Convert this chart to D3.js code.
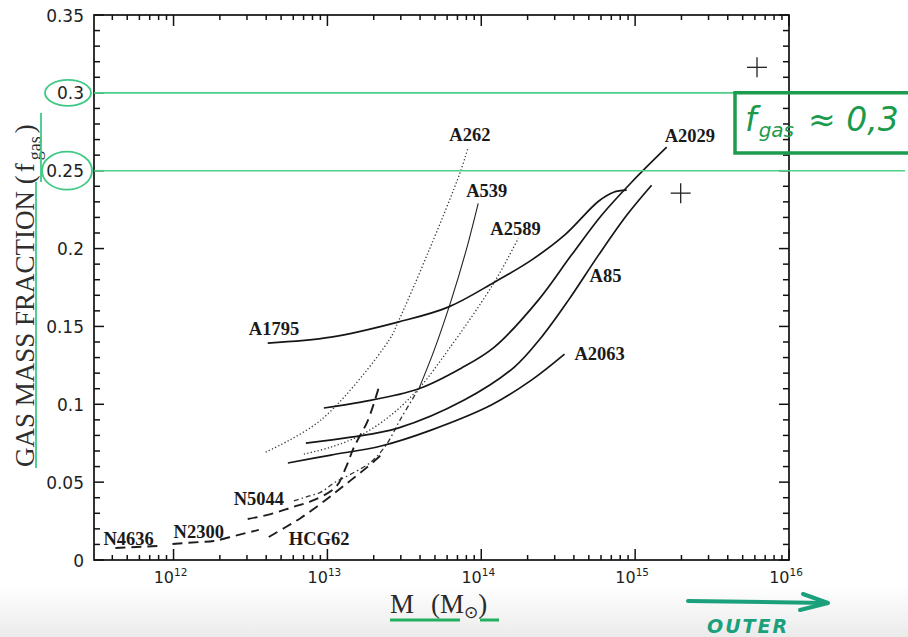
<!DOCTYPE html>
<html>
<head>
<meta charset="utf-8">
<script src="https://cdn.jsdelivr.net/npm/d3@7"></script>
<style>
  html, body { margin: 0; padding: 0; background: #fff; }
  svg { display: block; }
</style>
</head>
<body>
<svg id="chart" width="908" height="637"></svg>
<script>
// Gas mass fraction profiles, points are [log10 M (Msun), f_gas]
const n4636 = [[11.622, 0.0077], [11.896, 0.0090]];
const n2300 = [[11.993, 0.0103], [12.176, 0.0116], [12.261, 0.0122], [12.417, 0.0160], [12.554, 0.0193]];
const n5044 = [[12.482, 0.0263], [12.632, 0.0295], [12.775, 0.0340], [12.899, 0.0379], [13.055, 0.0469],
               [13.121, 0.0597], [13.173, 0.0725], [13.264, 0.0899], [13.342, 0.1136]];
const hcg62 = [[12.619, 0.0148], [12.730, 0.0212], [12.827, 0.0270], [12.945, 0.0353], [13.055, 0.0436],
               [13.153, 0.0513], [13.251, 0.0590], [13.349, 0.0674]];
const a262 = [[12.599, 0.0693], [12.958, 0.0899], [13.401, 0.1412], [13.459, 0.1528], [13.661, 0.1990],
              [13.863, 0.2490], [13.915, 0.2651]];
const a539 = [[13.596, 0.1104], [13.694, 0.1348], [13.805, 0.1669], [13.902, 0.1990], [13.980, 0.2291]];
const a539Inner = [[12.782, 0.0379], [12.860, 0.0404], [12.958, 0.0436], [13.042, 0.0494], [13.153, 0.0552],
                   [13.283, 0.0629], [13.381, 0.0738], [13.479, 0.0911], [13.596, 0.1104]];
const a2589 = [[12.847, 0.0680], [13.023, 0.0725], [13.218, 0.0802], [13.414, 0.0931], [13.596, 0.1104],
               [13.785, 0.1348], [14.085, 0.1784], [14.241, 0.2067]];
const a1795 = [[12.612, 0.1393], [13.023, 0.1431], [13.459, 0.1528], [13.785, 0.1624], [14.085, 0.1784],
               [14.326, 0.1926], [14.541, 0.2086], [14.762, 0.2304], [14.860, 0.2362], [14.945, 0.2375]];
const a2029 = [[12.977, 0.0976], [13.218, 0.1014], [13.590, 0.1098], [13.870, 0.1232], [14.085, 0.1367],
               [14.371, 0.1669], [14.586, 0.1958], [14.782, 0.2214], [14.977, 0.2426], [15.205, 0.2651]];
const a85 = [[12.860, 0.0751], [13.153, 0.0789], [13.459, 0.0847], [13.889, 0.1027], [14.215, 0.1239],
             [14.391, 0.1431], [14.567, 0.1669], [14.762, 0.1958], [14.945, 0.2214], [15.107, 0.2407]];
const a2063 = [[12.743, 0.0623], [13.023, 0.0674], [13.349, 0.0732], [13.674, 0.0834], [14.065, 0.0995],
               [14.326, 0.1155], [14.541, 0.1322]];

// Single reference points marked with crosses
const crossPoints = [[15.792, 0.3164], [15.296, 0.2356]];

// Object names with the [log10 M, f_gas] where each name starts
const objectLabels = [
  { name: "A262",  at: [13.792, 0.2689] },
  { name: "A539",  at: [13.902, 0.2330] },
  { name: "A2589", at: [14.059, 0.2086] },
  { name: "A2029", at: [15.192, 0.2683] },
  { name: "A85",   at: [14.704, 0.1784] },
  { name: "A1795", at: [12.489, 0.1444] },
  { name: "A2063", at: [14.606, 0.1284] },
  { name: "N5044", at: [12.391, 0.0353] },
  { name: "HCG62", at: [12.749, 0.0096] },
  { name: "N2300", at: [12.000, 0.0141] },
  { name: "N4636", at: [11.544, 0.0096] }
];

// Axis ticks
const xMajor = [1e12, 1e13, 1e14, 1e15, 1e16];
const xMajorExp = ["12", "13", "14", "15", "16"];
const yMajor = [0, 0.05, 0.1, 0.15, 0.2, 0.25, 0.3, 0.35];
const yMajorLabels = ["0", "0.05", "0.1", "0.15", "0.2", "0.25", "0.3", "0.35"];
const highlightF = [0.3, 0.25];

const series = [
  { name: "N4636", kind: "dashed", pts: n4636 },
  { name: "N2300", kind: "dashed", pts: n2300 },
  { name: "N5044", kind: "dashed", pts: n5044 },
  { name: "HCG62", kind: "dashed", pts: hcg62 },
  { name: "A262",  kind: "dotted", pts: a262 },
  { name: "A539",  kind: "thin",   pts: a539 },
  { name: "A539i", kind: "dashdot", pts: a539Inner },
  { name: "A2589", kind: "dotted", pts: a2589 },
  { name: "A1795", kind: "solid",  pts: a1795 },
  { name: "A2029", kind: "solid",  pts: a2029 },
  { name: "A85",   kind: "solid",  pts: a85 },
  { name: "A2063", kind: "solid",  pts: a2063 }
];

const lineStyles = {
  solid:   { stroke: "#161616", width: 1.7, dash: null },
  thin:    { stroke: "#222",    width: 1.1, dash: null },
  dotted:  { stroke: "#3a3a3a", width: 1.3, dash: "1.3 2.2" },
  dashed:  { stroke: "#1c1c1c", width: 1.9, dash: "10 6" },
  dashdot: { stroke: "#333",    width: 1.3, dash: "5 3 1.5 3" }
};

const svg = d3.select("#chart");
const W = 908, H = 637;
const plotL = 94, plotR = 789, plotT = 15, plotB = 560;

const x = d3.scaleLog().domain([10 ** 11.483, 1e16]).range([plotL, plotR]);
const y = d3.scaleLinear().domain([0, 0.35]).range([plotB, plotT]);

// faint scanner shading along the lower edge
const defs = svg.append("defs");
const grad = defs.append("linearGradient").attr("id", "lowShade").attr("x1", 0).attr("y1", 0).attr("x2", 0).attr("y2", 1);
grad.append("stop").attr("offset", "0%").attr("stop-color", "#ffffff");
grad.append("stop").attr("offset", "100%").attr("stop-color", "#ebebeb");
svg.append("rect").attr("x", 0).attr("y", 585).attr("width", W).attr("height", H - 585).attr("fill", "url(#lowShade)");

// minor x ticks: 2..9 of every decade inside the range
const xMinor = [];
for (let e = 11; e < 16; e++) {
  for (let m = 2; m <= 9; m++) {
    const v = m * 10 ** e;
    if (v > x.domain()[0] && v < 1e16) xMinor.push(v);
  }
}
const yMinor = d3.range(0, 36).map(i => i / 100).filter(v => Math.round(v * 100) % 5 !== 0);

// inward tick marks on all four sides
const tickG = svg.append("g").attr("stroke", "#111").attr("stroke-width", 1.5);
function xTicks(vals, len) {
  tickG.append("g").selectAll("line").data(vals).join("line")
    .attr("x1", d => x(d)).attr("x2", d => x(d)).attr("y1", plotB).attr("y2", plotB - len);
  tickG.append("g").selectAll("line").data(vals).join("line")
    .attr("x1", d => x(d)).attr("x2", d => x(d)).attr("y1", plotT).attr("y2", plotT + len);
}
function yTicks(vals, len) {
  tickG.append("g").selectAll("line").data(vals).join("line")
    .attr("y1", d => y(d)).attr("y2", d => y(d)).attr("x1", plotL).attr("x2", plotL + len);
  tickG.append("g").selectAll("line").data(vals).join("line")
    .attr("y1", d => y(d)).attr("y2", d => y(d)).attr("x1", plotR).attr("x2", plotR - len);
}
xTicks(xMajor, 11);
xTicks(xMinor, 5);
yTicks(yMajor, 10);
yTicks(yMinor, 6);

// y tick labels through the axis generator (its own tick lines hidden)
const yAxisLeft = svg.append("g").attr("transform", `translate(${plotL},0)`)
  .call(d3.axisLeft(y).tickValues(yMajor).tickSize(0).tickPadding(10)
    .tickFormat((d, i) => yMajorLabels[i]));
yAxisLeft.select(".domain").remove();
yAxisLeft.selectAll(".tick line").remove();
yAxisLeft.selectAll(".tick text")
  .attr("font-family", "DejaVu Sans, sans-serif").attr("font-size", 17).attr("fill", "#1e1e1e")
  .attr("dy", "0.36em");

// x tick labels as powers of ten
const xl = svg.append("g").selectAll("text").data(xMajor).join("text")
  .attr("x", d => x(d) - 3).attr("y", 583)
  .attr("text-anchor", "middle")
  .attr("font-family", "DejaVu Sans, sans-serif").attr("font-size", 16).attr("fill", "#1e1e1e");
xl.append("tspan").text("10");
xl.append("tspan").attr("font-size", 10.5).attr("dy", -7).text((d, i) => xMajorExp[i]);

// frame
svg.append("rect").attr("x", plotL).attr("y", plotT).attr("width", plotR - plotL).attr("height", plotB - plotT)
  .attr("fill", "none").attr("stroke", "#111").attr("stroke-width", 1.7);

// profiles
const line = d3.line()
  .x(d => x(10 ** d[0]))
  .y(d => y(d[1]))
  .curve(d3.curveCatmullRom.alpha(0.5));

svg.append("g").selectAll("path").data(series).join("path")
  .attr("d", s => line(s.pts))
  .attr("fill", "none")
  .attr("stroke", s => lineStyles[s.kind].stroke)
  .attr("stroke-width", s => lineStyles[s.kind].width)
  .attr("stroke-dasharray", s => lineStyles[s.kind].dash)
  .attr("stroke-linecap", "butt");

// crosses
const cr = svg.append("g").attr("stroke", "#222").attr("stroke-width", 1.3);
crossPoints.forEach(p => {
  const cx = x(10 ** p[0]), cy = y(p[1]);
  cr.append("line").attr("x1", cx - 10).attr("x2", cx + 10).attr("y1", cy).attr("y2", cy);
  cr.append("line").attr("x1", cx).attr("x2", cx).attr("y1", cy - 10).attr("y2", cy + 10);
});

// object names
svg.append("g").selectAll("text").data(objectLabels).join("text")
  .attr("x", d => x(10 ** d.at[0])).attr("y", d => y(d.at[1]))
  .attr("font-family", "Liberation Serif, Times New Roman, serif")
  .attr("font-weight", "bold").attr("font-size", 18.5).attr("fill", "#1a1a1a")
  .text(d => d.name);

// axis titles
const yTitle = svg.append("text")
  .attr("transform", `translate(34,467) rotate(-90)`)
  .attr("font-family", "Liberation Serif, Times New Roman, serif")
  .attr("font-size", 27).attr("fill", "#2e2e2e");
yTitle.append("tspan").text("GAS MASS FRACTION (");
yTitle.append("tspan").attr("dx", 3).text("f");
yTitle.append("tspan").attr("font-size", 18).attr("dy", 7).attr("dx", 3).text("gas");
yTitle.append("tspan").attr("dy", -7).attr("dx", 3).text(")");

const xTitle = svg.append("text").attr("y", 613)
  .attr("font-family", "Liberation Serif, Times New Roman, serif")
  .attr("font-size", 27).attr("fill", "#2a2a2a");
xTitle.append("tspan").attr("x", 390).text("M");
xTitle.append("tspan").attr("x", 431).text("(M");
xTitle.append("tspan").attr("font-family", "DejaVu Sans, sans-serif").attr("font-size", 17).attr("dy", 5).text("⊙");
xTitle.append("tspan").attr("dy", -5).text(")");

// green pen highlights
const green = "#4fcf8a", darkGreen = "#1b9c4f";
const hl = svg.append("g").attr("fill", "none");
highlightF.forEach(v => {
  hl.append("line").attr("x1", plotL).attr("x2", v === 0.3 ? 735 : 905)
    .attr("y1", y(v)).attr("y2", y(v)).attr("stroke", green).attr("stroke-width", 1.6);
});
hl.append("ellipse").attr("cx", 68).attr("cy", y(0.3)).attr("rx", 23).attr("ry", 13)
  .attr("stroke", "#3fc985").attr("stroke-width", 1.8);
hl.append("ellipse").attr("cx", 67).attr("cy", y(0.25)).attr("rx", 25).attr("ry", 19)
  .attr("stroke", "#3fc985").attr("stroke-width", 1.8);
hl.append("line").attr("x1", 36).attr("x2", 36).attr("y1", 468).attr("y2", 182)
  .attr("stroke", "#3fc985").attr("stroke-width", 1.8);
hl.append("line").attr("x1", 41).attr("x2", 41).attr("y1", 182).attr("y2", 113)
  .attr("stroke", "#3fc985").attr("stroke-width", 1.8);
hl.append("line").attr("x1", 390).attr("x2", 460).attr("y1", 620).attr("y2", 620)
  .attr("stroke", "#22b060").attr("stroke-width", 3);
hl.append("line").attr("x1", 480).attr("x2", 499).attr("y1", 620).attr("y2", 620)
  .attr("stroke", "#22b060").attr("stroke-width", 3);

// boxed note
const boxTop = y(0.3), boxBottom = 153;
hl.append("path")
  .attr("d", `M908,${boxTop} H735 V${boxBottom} H908`)
  .attr("stroke", darkGreen).attr("stroke-width", 3.5);
const note = svg.append("text").attr("x", 745).attr("y", 131)
  .attr("font-family", "DejaVu Sans, sans-serif").attr("font-style", "italic")
  .attr("font-size", 33).attr("fill", "#1c9a4c");
note.append("tspan").text("f");
note.append("tspan").attr("font-size", 20).attr("dy", 6).attr("dx", 2).text("gas");
note.append("tspan").attr("dy", -6).attr("dx", 14).text("≈ 0,3");

// arrow towards larger radii
const arrowColor = "#1aa07a";
hl.append("path").attr("d", "M688,601 L827,603")
  .attr("stroke", arrowColor).attr("stroke-width", 4).attr("stroke-linecap", "round");
hl.append("path").attr("d", "M803,594 L828,603 L800,610")
  .attr("stroke", arrowColor).attr("stroke-width", 4).attr("stroke-linecap", "round").attr("stroke-linejoin", "round");
svg.append("text").attr("x", 707).attr("y", 633)
  .attr("font-family", "DejaVu Sans, sans-serif").attr("font-style", "italic").attr("font-weight", "bold")
  .attr("font-size", 19).attr("letter-spacing", 2).attr("fill", arrowColor).text("OUTER");
</script>
</body>
</html>
